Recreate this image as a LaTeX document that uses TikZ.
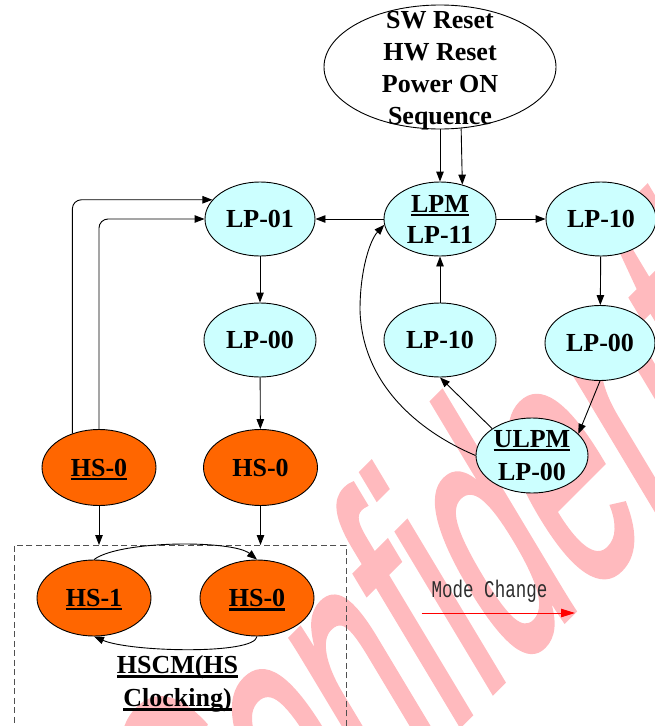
\documentclass[tikz,border=0pt]{standalone}
\usepackage{fontspec}
\setmainfont{Liberation Serif}
\newfontfamily\modefont[FakeStretch=0.73]{Liberation Mono}
\newfontfamily\markfont[FakeBold=1.5]{Liberation Sans}
\usetikzlibrary{shapes.geometric,arrows.meta}
\definecolor{lpfill}{RGB}{204,255,255}
\definecolor{hsfill}{RGB}{255,102,0}
\definecolor{markpink}{RGB}{255,186,190}
\definecolor{boxgray}{RGB}{80,80,80}
\definecolor{modetext}{RGB}{45,45,45}
% thick underline that does not change the box size
\newcommand{\ulin}[1]{\leavevmode\setbox0\hbox{#1}\rlap{\smash{\rule[-4pt]{\wd0}{2.5pt}}}\box0}
\begin{document}
\begin{tikzpicture}[x=1pt, y=-1pt,
  nodetext/.style={font=\bfseries\fontsize{26}{31}\selectfont, align=center},
  state/.style={ellipse, draw=black, line width=0.9pt, inner sep=0pt,
                minimum width=112pt, minimum height=74pt, nodetext},
  lp/.style={state, fill=lpfill},
  hs/.style={state, fill=hsfill, minimum width=114pt, minimum height=76pt},
  inlabel/.style={nodetext, inner sep=0pt},
  arr/.style={draw=black, line width=0.9pt, -{Triangle[length=10pt,width=7.5pt]}},
]
\useasboundingbox (0,0) rectangle (655,726);
\clip (0,0) rectangle (655,726);

% background watermark
\begin{scope}[shift={(215,970)}, rotate=45, xslant=0.25, yscale=1.9]
  \node[transform shape, anchor=base west, inner sep=0pt, text=markpink,
        font=\markfont\fontsize{180}{180}\selectfont] (mark) at (0,0) {Confidential};
\end{scope}

% HS clocking cluster
\node[draw=boxgray, line width=0.9pt, dash pattern=on 6pt off 3.5pt, inner sep=0pt,
      minimum width=332pt, minimum height=200pt, anchor=north west] (hscm) at (13.5,545) {};
\node[font=\bfseries\fontsize{26}{32.7}\selectfont, align=center] (hscmlabel) at (177.5,684)
  {\ulin{HSCM(HS}\\\ulin{Clocking)}};

% states
\node[ellipse, draw=black, line width=0.9pt, inner sep=0pt, minimum width=232pt, minimum height=124pt,
      label={[font=\bfseries\fontsize{26}{32}\selectfont, align=center, inner sep=0pt, yshift=-4pt]center:{SW Reset\\HW Reset\\Power ON\\Sequence}}]
      (reset) at (440,67) {};
\node[lp, label={[inlabel]center:{\ulin{LPM}\\LP-11}}] (lpm) at (440,219) {};
\node[lp, minimum width=110pt] (lp01) at (260,219) {LP-01};
\node[lp, minimum width=110pt] (lp10a) at (601,219) {LP-10};
\node[lp] (lp00a) at (260,340) {LP-00};
\node[lp] (lp10b) at (440,340) {LP-10};
\node[lp, minimum width=110pt, minimum height=75pt] (lp00b) at (600,343) {LP-00};
\node[lp, minimum height=75pt, label={[inlabel]center:{\ulin{ULPM}\\[2pt]LP-00}}] (ulpm) at (532,455.5) {};
\node[hs] (hs0a) at (99,467.5) {\ulin{HS-0}};
\node[hs] (hs0b) at (260.5,467.5) {HS-0};
\node[hs] (hs1) at (94,598) {\ulin{HS-1}};
\node[hs] (hs0c) at (257,598) {\ulin{HS-0}};

% transitions
\draw[arr] (reset.south) -- (lpm.north);
\draw[arr] (reset.289.9) -- (lpm.57.1);
\draw[arr] (lpm) -- (lp01);
\draw[arr] (lpm) -- (lp10a);
\draw[arr] (lp01) -- (lp00a);
\draw[arr] (lp00a) -- (hs0b);
\draw[arr] (lp10a) -- (lp00b);
\draw[arr] (lp10b) -- (lpm);
\draw[arr] (lp00b.south) -- (ulpm.25);
\draw[arr] (ulpm.146) -- (lp10b.south);
\draw[arr] (ulpm.west) .. controls (420,432) and (362,385) .. (360,310)
                       .. controls (360,270) and (370,240) .. (lpm.186);
\draw[arr, rounded corners=9pt] (hs0a.128.3) |- (lp01.158);
\draw[arr, rounded corners=9pt] (hs0a.north) |- (lp01.west);
\draw[arr] (hs0a.south) -- (hs0a.south |- hscm.north);
\draw[arr] (hs0b.south) -- (hs0b.south |- hscm.north);
\draw[arr] (hs1.north) .. controls (120,540) and (233,540) .. (hs0c.north);
\draw[arr] (hs0c.south) .. controls (255,655) and (130,652) .. (hs1.south);

% legend
\node[font=\modefont\fontsize{24}{24}\selectfont, text=modetext, inner sep=0pt] (modelabel) at (489.5,591) {Mode Change};
\coordinate (modestart) at (421.5,613);
\coordinate (modeend) at (575,613);
\draw[red, line width=0.9pt, -{Triangle[length=14pt,width=8.5pt]}] (modestart) -- (modeend);
\end{tikzpicture}
\end{document}
